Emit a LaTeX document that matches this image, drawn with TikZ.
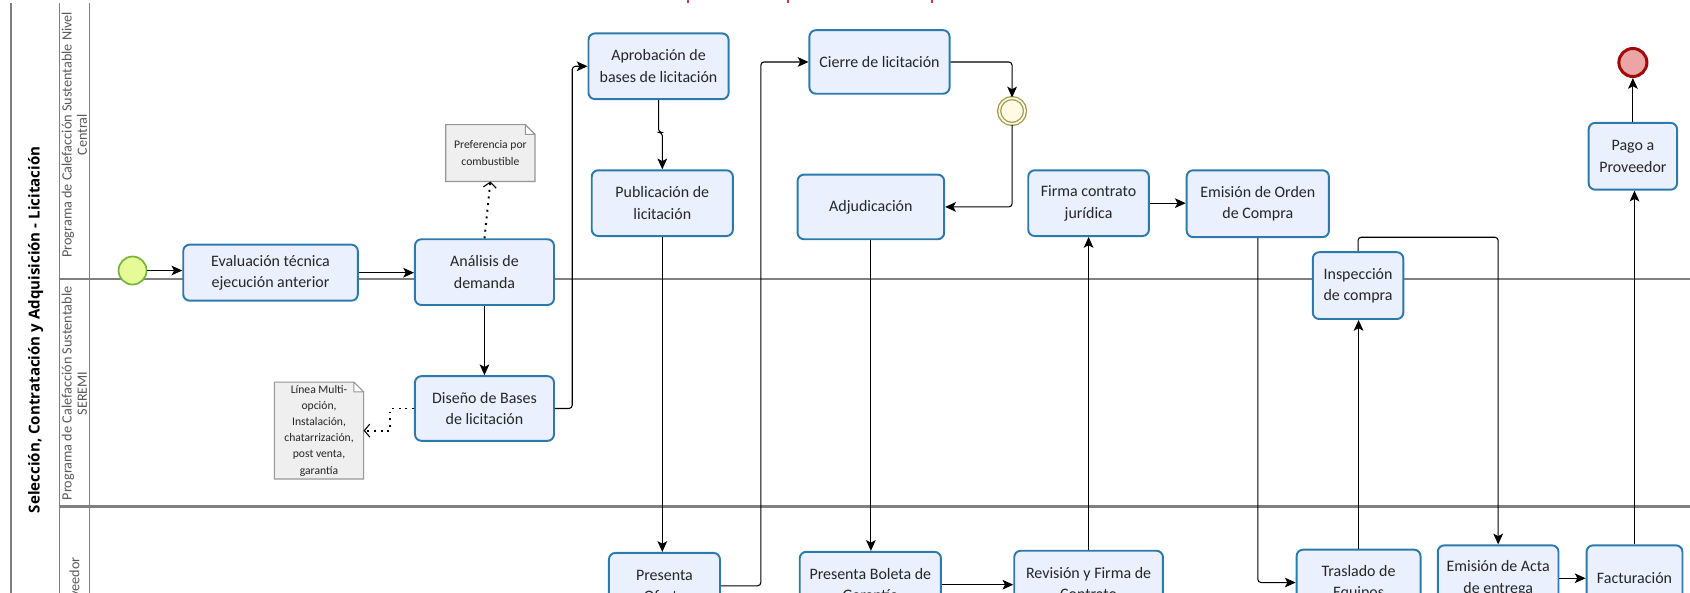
\documentclass[tikz,border=0pt]{standalone}
\usepackage{fontspec}
\setmainfont{Carlito}
\newfontfamily\titlefont{Open Sans}
\usetikzlibrary{arrows.meta,backgrounds}
\definecolor{taskfill}{RGB}{234,240,253}
\definecolor{taskline}{RGB}{44,122,172}
\definecolor{lanegray}{RGB}{128,128,128}
\definecolor{notefill}{RGB}{239,239,239}
\definecolor{notegray}{RGB}{150,150,150}
\definecolor{startfill}{RGB}{230,250,150}
\definecolor{startline}{RGB}{120,180,60}
\definecolor{interfill}{RGB}{255,250,228}
\definecolor{interline}{RGB}{160,155,80}
\definecolor{endfill}{RGB}{235,165,165}
\definecolor{endline}{RGB}{160,10,10}
\definecolor{markred}{RGB}{210,50,90}
\begin{document}
\begin{tikzpicture}[x=0.5pt, y=-0.5pt, >={Stealth[length=5pt, width=4.5pt, inset=1.2pt]},
    task/.style={draw=taskline, fill=taskfill, line width=0.9pt, rounded corners=3pt, align=center, inner sep=0pt, text=black!85, font=\fontsize{7.4}{10}\selectfont},
    note/.style={align=center, inner sep=0pt, text=black!85, font=\fontsize{5.4}{7.5}\selectfont},
    flow/.style={->, line width=0.5pt, rounded corners=1.5pt},
    assoc/.style={-{Straight Barb[length=2.5pt, width=6pt, line width=0.5pt]}, line width=0.9pt, dash pattern=on 0.9pt off 2.2pt},
    lane/.style={draw=lanegray, line width=1pt},
    lanelabel/.style={rotate=90, align=center, text=black!65, font=\fontsize{6.6}{7}\selectfont}]
    \useasboundingbox (0,0) rectangle (1568,550);
    \clip (0,0) rectangle (1568,550);
    %\draw [help lines, thin] (0,0) grid[step=50] (1568,550);
    % pool and lanes
    \draw[lane] (10,3) -- (10,560);
    \draw[lane, line width=0.7pt] (55,3) -- (55,560) (83,3) -- (83,560);
    \draw[lane] (55,259) -- (1570,259) (55,470) -- (1570,470);
    \node[rotate=90, font=\titlefont\bfseries\fontsize{7}{8}\selectfont] (pool) at (33,306) {Selección, Contratación y Adquisición - Licitación};
    \node[lanelabel] (lanecentral) at (69,125) {Programa de Calefacción Sustentable Nivel\\Central};
    \node[lanelabel] (laneseremi) at (69,365) {Programa de Calefacción Sustentable\\SEREMI};
    \node[lanelabel] (laneprov) at (69,545) {Proveedor};
    \foreach \x in {638,731,865} \draw[markred, line width=0.8pt] (\x,0) -- (\x,3);
    % events
    \node[circle, draw=startline, fill=startfill, line width=0.8pt, minimum size=13pt, inner sep=0pt] (start) at (123,251) {};
    \node[circle, draw=interline, double=interfill, double distance=0.8pt, fill=interfill, line width=0.6pt, minimum size=12pt, inner sep=0pt] (inter) at (939,103) {};
    \node[circle, draw=endline, fill=endfill, line width=1.4pt, minimum size=13pt, inner sep=0pt] (end) at (1515,58) {};
    % tasks
    \node[task, minimum width=81pt, minimum height=26pt] (eval) at (251,253) {Evaluación técnica\\ejecución anterior};
    \node[task, minimum width=64.5pt, minimum height=30.5pt] (analisis) at (449.5,252.5) {Análisis de\\demanda};
    \node[task, minimum width=64.5pt, minimum height=30pt] (diseno) at (449.5,379) {Diseño de Bases\\de licitación};
    \node[task, minimum width=65pt, minimum height=30.5pt] (aprob) at (611,61.5) {Aprobación de\\bases de licitación};
    \node[task, minimum width=65.5pt, minimum height=30.5pt] (publ) at (614.5,188.5) {Publicación de\\licitación};
    \node[task, minimum width=51.5pt, minimum height=30.5pt] (oferta) at (616.5,543.5) {Presenta\\Oferta};
    \node[task, minimum width=65pt, minimum height=29.5pt] (cierre) at (816,57.5) {Cierre de licitación};
    \node[task, minimum width=68pt, minimum height=30pt] (adjud) at (808,192) {Adjudicación};
    \node[task, minimum width=65.5pt, minimum height=30.5pt] (boleta) at (807.5,542.5) {Presenta Boleta de\\Garantía};
    \node[task, minimum width=69pt, minimum height=30.5pt] (revision) at (1010,541.5) {Revisión y Firma de\\Contrato};
    \node[task, minimum width=56pt, minimum height=30.5pt] (firma) at (1010,188.5) {Firma contrato\\jurídica};
    \node[task, minimum width=66pt, minimum height=31pt] (emisionoc) at (1167,189) {Emisión de Orden\\de Compra};
    \node[task, minimum width=57.5pt, minimum height=30.5pt] (traslado) at (1260.5,540.5) {Traslado de\\Equipos};
    \node[task, minimum width=42pt, minimum height=31pt] (inspeccion) at (1260,265) {Inspección\\de compra};
    \node[task, minimum width=56pt, minimum height=30.5pt] (acta) at (1390,536.5) {Emisión de Acta\\de entrega};
    \node[task, minimum width=44.5pt, minimum height=30.5pt] (factura) at (1516.5,536.5) {Facturación};
    \node[task, minimum width=41pt, minimum height=31pt] (pago) at (1515,145) {Pago a\\Proveedor};
    % notes
    \node[note, minimum width=41pt, minimum height=26pt] (note1) at (455,142) {Preferencia por\\combustible};
    \node[note, minimum width=41pt, minimum height=44.5pt] (note2) at (296,399.5) {Línea Multi-\\opción,\\Instalación,\\chatarrización,\\post venta,\\garantía};
    \begin{pgfonlayer}{background}
    \foreach \n in {note1,note2}
        \filldraw[fill=notefill, draw=notegray, line width=0.5pt] (\n.south west) -- (\n.north west) -- ([xshift=-4.5pt]\n.north east) -- ([yshift=-4.5pt]\n.north east) -- (\n.south east) -- cycle
            ([xshift=-4.5pt]\n.north east) |- ([yshift=-4.5pt]\n.north east);
    \end{pgfonlayer}
    % sequence flows
    \draw[flow] (start) -- (start -| eval.west);
    \draw[flow] (eval.east) -- (eval.east -| analisis.west);
    \draw[flow] (analisis) -- (diseno);
    \draw[flow] (diseno.east) -- ++(16,0) |- (aprob.west);
    \draw[flow] (aprob.south) -- ++(0,30) -| (publ.north);
    \draw[flow] (publ.south) -- (publ.south |- oferta.north);
    \draw[flow] (oferta.east) -- ++(37,0) |- (cierre.west);
    \draw[flow] (cierre.east) -| (inter.north);
    \draw[flow] (inter.south) |- (adjud.east);
    \draw[flow] (adjud.south) -- (adjud.south |- boleta.north);
    \draw[flow] (boleta.east) -- (boleta.east -| revision.west);
    \draw[flow] (revision.north) -- (firma.south);
    \draw[flow] (firma.east) -- (firma.east -| emisionoc.west);
    \draw[flow] (emisionoc.south) |- (traslado.west);
    \draw[flow] (traslado.north) -- (traslado.north |- inspeccion.south);
    \draw[flow] (inspeccion.north) -- ++(0,-13) -| (acta.north);
    \draw[flow] (acta.east) -- (acta.east -| factura.west);
    \draw[flow] (factura.north) -- (factura.north |- pago.south);
    \draw[flow] (pago) -- (end);
    % associations
    \draw[assoc] (analisis.north) -- (note1.south);
    \draw[assoc] (diseno.west) -- ++(-22,0) |- (note2.east);
\end{tikzpicture}
\end{document}
